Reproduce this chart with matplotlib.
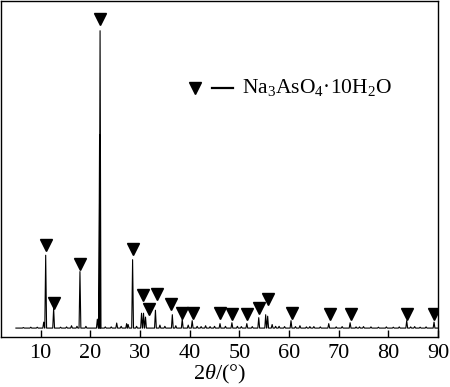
import numpy as np
import matplotlib
matplotlib.use("Agg")
import matplotlib.pyplot as plt

plt.rcParams['font.family'] = ['Liberation Serif', 'DejaVu Serif']
plt.rcParams['mathtext.fontset'] = 'custom'
plt.rcParams['mathtext.rm'] = 'Liberation Serif'
plt.rcParams['mathtext.it'] = 'Liberation Serif:italic'

# main reflections of the pattern (2theta, relative intensity)
peak_pos = [10.6, 11.0, 12.6, 16.2, 17.3, 17.9, 19.1, 21.4, 21.85, 21.95,
            25.3, 27.3, 27.6, 28.5, 30.3, 30.7, 31.1, 33.1, 34.0, 36.5,
            37.2, 38.5, 39.7, 40.5, 43.2, 45.0, 46.1, 48.5, 49.6, 51.5,
            53.9, 55.3, 55.7, 56.6, 58.0, 60.4, 62.2, 65.0, 68.0, 72.3,
            75.0, 83.7, 85.3, 89.2]
peak_int = [0.020, 0.245, 0.067, 0.008, 0.006, 0.190, 0.006, 0.030, 0.650, 1.000,
            0.017, 0.015, 0.012, 0.230, 0.050, 0.050, 0.037, 0.060, 0.010, 0.045,
            0.008, 0.030, 0.010, 0.025, 0.008, 0.006, 0.015, 0.018, 0.006, 0.015,
            0.035, 0.045, 0.040, 0.012, 0.006, 0.025, 0.008, 0.005, 0.015, 0.018,
            0.005, 0.025, 0.005, 0.020]

# small baseline wiggles
noise_pos = [6.5, 8.0, 9.3, 14.0, 15.2, 23.0, 24.2, 26.2, 29.3, 35.0,
             41.5, 42.3, 44.1, 47.2, 50.4, 52.6, 57.3, 59.1, 61.3, 63.5,
             64.2, 66.3, 69.5, 70.7, 73.5, 74.2, 76.5, 78.0, 79.6, 81.0,
             82.2, 84.5, 86.4, 87.6]
noise_int = [0.002, 0.003, 0.003, 0.003, 0.004, 0.004, 0.004, 0.006, 0.006, 0.006,
             0.006, 0.005, 0.005, 0.006, 0.005, 0.005, 0.006, 0.005, 0.005, 0.004,
             0.005, 0.004, 0.004, 0.005, 0.004, 0.004, 0.004, 0.003, 0.004, 0.003,
             0.004, 0.004, 0.003, 0.004]

# phase marks (Na3AsO4.10H2O)
mark_pos = [11.0, 12.6, 17.9, 22.0, 28.6, 30.5, 31.8, 33.4, 36.3, 38.4,
            40.6, 46.2, 48.5, 51.6, 54.0, 55.7, 60.6, 68.2, 72.4, 83.8, 89.2]
mark_y = [0.279, 0.084, 0.215, 1.04, 0.265, 0.111, 0.064, 0.114, 0.081, 0.050,
          0.050, 0.050, 0.048, 0.047, 0.067, 0.097, 0.050, 0.047, 0.047, 0.048, 0.047]

x_start, x_end = 5.0, 90.0
half_w = 0.18

peaks = sorted(zip(peak_pos + noise_pos, peak_int + noise_int))
tx = [x_start]
ty = [0.0]
for p, h in peaks:
    tx += [p - half_w, p, p + half_w]
    ty += [0.0, h, 0.0]
tx.append(x_end)
ty.append(0.0)

fig = plt.figure(figsize=(4.5, 3.87), dpi=100)
ax = fig.add_axes([1 / 450, 1 - 337 / 387, 437 / 450, 336 / 387])

ax.plot(tx, ty, color='black', lw=0.8)
ax.plot(mark_pos, mark_y, 'v', color='black', markersize=8.5, linestyle='none')

# legend drawn by hand
ax.plot([41.0], [0.809], 'v', color='black', markersize=8.5)
ax.plot([44.5, 48.7], [0.809, 0.809], color='black', lw=1.6)
ax.text(50.6, 0.809, r'Na$_3$AsO$_4$·10H$_2$O', fontsize=15.5, va='center', ha='left')

ax.set_xlim(2, 90)
ax.set_ylim(-0.030, 1.10)
ax.set_xticks(range(10, 91, 10))
ax.set_yticks([])
ax.tick_params(axis='x', direction='in', length=5, width=1, labelsize=16, pad=5)
for s in ax.spines.values():
    s.set_linewidth(1.0)
ax.set_xlabel(r'2$\theta$/(°)', fontsize=16, labelpad=0)

fig.savefig('out.png', dpi=100)
